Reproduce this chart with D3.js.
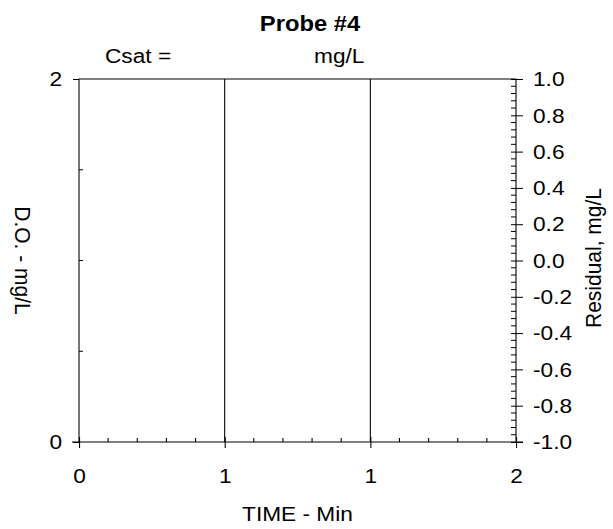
<!DOCTYPE html>
<html>
<head>
<meta charset="utf-8">
<script src="https://cdn.jsdelivr.net/npm/d3@7"></script>
<style>
  html, body { margin: 0; padding: 0; background: #fff; }
  svg { display: block; }
  text { font-family: "Liberation Sans", Arial, Helvetica, sans-serif; fill: #000; }
</style>
</head>
<body>
<script>
// Chart text
const titleText = "Probe #4";
const csatText = "Csat =";
const csatUnitText = "mg/L";
const xLabelText = "TIME - Min";
const yLabelText = "D.O. - mg/L";
const y2LabelText = "Residual, mg/L";

// Axis domains and tick values
const xDomain = [0, 2];
const xTickValues = [0, 2 / 3, 4 / 3, 2];
const xMinorPerMajor = 5;
const yDomain = [0, 2];
const yTickValues = [0, 2];
const yMinorValues = [0.5, 1, 1.5];
const y2Domain = [-1, 1];
const y2TickValues = [-1.0, -0.8, -0.6, -0.4, -0.2, 0.0, 0.2, 0.4, 0.6, 0.8, 1.0];
const y2MinorPerMajor = 5;

const W = 613, H = 529;
const sx = 1.08;                 // horizontal stretch of the drawing
const h = px => px / sx;         // screen px -> inner horizontal units

const plot = { left: 79, right: 516, top: 79, bottom: 442 };

const svg = d3.select("body").append("svg")
  .attr("width", W).attr("height", H)
  .attr("viewBox", `0 0 ${W / sx} ${H}`)
  .attr("preserveAspectRatio", "none");

const x = d3.scaleLinear().domain(xDomain).range([h(plot.left), h(plot.right)]);
const y = d3.scaleLinear().domain(yDomain).range([plot.bottom, plot.top]);
const y2 = d3.scaleLinear().domain(y2Domain).range([plot.bottom, plot.top]);

const fs = 21;

// Frame: left, top, right
svg.append("path")
  .attr("d", `M${x(0)},${plot.bottom}V${plot.top}H${x(2)}V${plot.bottom}`)
  .attr("fill", "none").attr("stroke", "#000").attr("stroke-width", 1);

// Bottom axis line (extends a little past the frame)
svg.append("line")
  .attr("x1", h(plot.left - 7)).attr("x2", h(plot.right + 7))
  .attr("y1", plot.bottom).attr("y2", plot.bottom)
  .attr("stroke", "#000").attr("stroke-width", 1);

// Vertical lines at interior x ticks
svg.append("g").selectAll("line")
  .data(xTickValues.slice(1, -1))
  .join("line")
  .attr("x1", d => x(d)).attr("x2", d => x(d))
  .attr("y1", plot.top).attr("y2", plot.bottom)
  .attr("stroke", "#000").attr("stroke-width", 1);

// Bottom axis
const xAxis = d3.axisBottom(x)
  .tickValues(xTickValues)
  .tickFormat(d3.format(".0f"))
  .tickSizeInner(6).tickSizeOuter(0).tickPadding(20);
const gx = svg.append("g").attr("transform", `translate(0,${plot.bottom})`).call(xAxis);
gx.select(".domain").remove();
gx.selectAll(".tick line").attr("y1", -5).attr("y2", 6).attr("stroke", "#000");
gx.selectAll(".tick text").attr("font-size", fs).attr("font-family", null).attr("fill", "#000");

// Bottom minor ticks (inside)
const xStep = (xTickValues[1] - xTickValues[0]) / xMinorPerMajor;
const xMinor = d3.range(xDomain[0], xDomain[1] + 1e-9, xStep)
  .filter((d, i) => i % xMinorPerMajor !== 0);
svg.append("g").selectAll("line").data(xMinor).join("line")
  .attr("x1", d => x(d)).attr("x2", d => x(d))
  .attr("y1", plot.bottom - 4).attr("y2", plot.bottom)
  .attr("stroke", "#000").attr("stroke-width", 1);

// Left axis
const yAxis = d3.axisLeft(y)
  .tickValues(yTickValues)
  .tickFormat(d3.format("d"))
  .tickSizeInner(h(6)).tickSizeOuter(0).tickPadding(h(11));
const gy = svg.append("g").attr("transform", `translate(${h(plot.left)},0)`).call(yAxis);
gy.select(".domain").remove();
gy.selectAll(".tick line").attr("stroke", "#000");
gy.selectAll(".tick text").attr("font-size", fs).attr("font-family", null).attr("fill", "#000");

// Left minor ticks (inside)
svg.append("g").selectAll("line").data(yMinorValues).join("line")
  .attr("x1", h(plot.left)).attr("x2", h(plot.left + 4))
  .attr("y1", d => y(d)).attr("y2", d => y(d))
  .attr("stroke", "#000").attr("stroke-width", 1);

// Right axis (residuals)
const y2Axis = d3.axisRight(y2)
  .tickValues(y2TickValues)
  .tickFormat(d => d.toFixed(1))
  .tickSizeInner(h(7)).tickSizeOuter(0).tickPadding(h(10));
const gy2 = svg.append("g").attr("transform", `translate(${h(plot.right)},0)`).call(y2Axis);
gy2.select(".domain").remove();
gy2.selectAll(".tick line").attr("x1", -h(5)).attr("stroke", "#000");
gy2.selectAll(".tick text").attr("font-size", fs).attr("font-family", null).attr("fill", "#000");

// Right minor ticks (inside)
const y2Step = (y2TickValues[1] - y2TickValues[0]) / y2MinorPerMajor;
const y2Minor = d3.range(0, Math.round((y2Domain[1] - y2Domain[0]) / y2Step) + 1)
  .filter(i => i % y2MinorPerMajor !== 0)
  .map(i => y2Domain[0] + i * y2Step);
svg.append("g").selectAll("line").data(y2Minor).join("line")
  .attr("x1", h(plot.right - 5)).attr("x2", h(plot.right))
  .attr("y1", d => y2(d)).attr("y2", d => y2(d))
  .attr("stroke", "#000").attr("stroke-width", 1);

// Title and header texts
svg.append("text")
  .attr("x", h(310)).attr("y", 31)
  .attr("text-anchor", "middle")
  .attr("font-size", 22).attr("font-weight", "bold")
  .text(titleText);

svg.append("text")
  .attr("x", h(105)).attr("y", 63)
  .attr("font-size", fs)
  .text(csatText);

svg.append("text")
  .attr("x", h(314)).attr("y", 63)
  .attr("font-size", fs)
  .text(csatUnitText);

// Axis titles
svg.append("text")
  .attr("x", h((plot.left + plot.right) / 2)).attr("y", 521)
  .attr("text-anchor", "middle")
  .attr("font-size", fs)
  .text(xLabelText);

svg.append("text")
  .attr("transform", `translate(${h(15)},${(plot.top + plot.bottom) / 2}) rotate(90)`)
  .attr("text-anchor", "middle")
  .attr("font-size", fs)
  .text(yLabelText);

svg.append("text")
  .attr("transform", `translate(${h(601)},${258}) rotate(-90)`)
  .attr("text-anchor", "middle")
  .attr("font-size", fs)
  .text(y2LabelText);
</script>
</body>
</html>
